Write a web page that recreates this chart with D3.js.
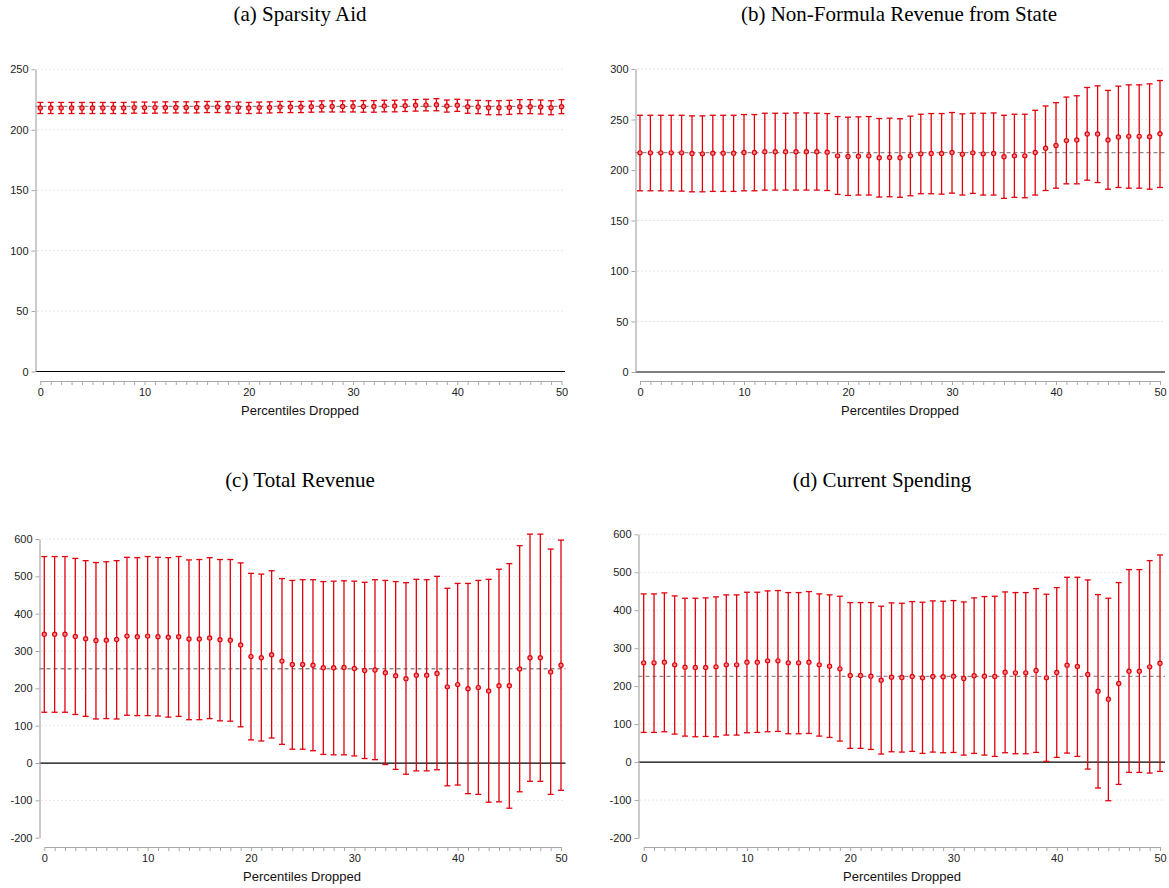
<!DOCTYPE html>
<html>
<head>
<meta charset="utf-8">
<script src="https://cdn.jsdelivr.net/npm/d3@7"></script>
<style>
  body { margin: 0; background: #fff; }
  .tick text { font-family: "Liberation Sans", Arial, sans-serif; font-size: 11px; fill: #222; }
</style>
</head>
<body>
<div id="chart"></div>
<script>
// percentiles dropped, 0..50
const pct = d3.range(0, 51);

// (a) Sparsity Aid
const aMean = [218.0,218.0,218.0,218.0,218.0,218.0,218.0,218.0,218.0,218.3,218.3,218.3,218.5,218.5,218.5,218.5,218.8,218.8,218.5,218.3,
  218.0,218.3,218.5,218.8,218.8,218.8,219.1,219.3,219.3,219.3,219.3,219.3,219.3,219.6,219.6,219.9,220.2,220.4,220.7,219.6,
  220.2,219.1,218.8,218.2,218.2,218.5,219.1,219.1,218.8,218.2,219.1];
const aHi = [222.6,222.6,222.6,222.6,222.6,222.6,222.6,222.6,222.6,222.9,222.9,222.9,223.1,223.1,223.1,223.1,223.4,223.4,223.1,222.9,
  222.6,222.9,223.1,223.4,223.4,223.4,223.7,223.9,223.9,223.9,223.9,224.1,224.1,224.4,224.4,224.7,225.0,225.2,225.7,224.6,
  225.2,224.6,224.3,224.0,224.0,224.3,224.9,224.9,224.6,224.0,224.9];
const aLo = [213.4,213.4,213.4,213.4,213.4,213.4,213.4,213.4,213.4,213.7,213.7,213.7,213.9,213.9,213.9,213.9,214.2,214.2,213.9,213.7,
  213.4,213.7,213.9,214.2,214.2,214.2,214.5,214.7,214.7,214.7,214.7,214.5,214.5,214.8,214.8,215.1,215.4,215.6,215.7,214.6,
  215.2,213.6,213.3,212.4,212.4,212.7,213.3,213.3,213.0,212.4,213.3];

// (b) Non-Formula Revenue from State
const bMean = [217,217,217,217,217,216.3,216,216.7,216.7,216.7,217.3,217.3,218,218,218,218,218,218,217.6,214,
  213.4,213.7,214,212.1,212.4,212.1,214,216,216.3,216.3,217.3,215.7,217,216,216.3,213.1,214,214,217.3,221.6,
  224.2,229.1,229.7,235.6,235.6,229.7,232.7,233.3,233.3,233,235.9];
const bHi = [254.2,254.2,254.2,254.2,254.2,253.6,253.6,254.2,254.2,254.2,254.9,254.9,256.2,256.2,256.2,256.5,256.5,256.2,255.9,252.9,
  252.3,252.6,252.9,251,251.3,250.8,253.3,255.2,255.9,255.9,256.9,255.6,256.2,256.2,256.5,254.2,255.2,255.2,259.1,263.4,
  266.7,272.2,273.5,281.7,283.3,278.8,283,284.3,284.3,285.3,288.6];
const bLo = [179.4,179.4,179.4,179.4,179.1,178.4,178.4,178.8,178.8,178.8,179.4,179.4,180.1,180.1,180.1,180.1,180.1,180.1,179.7,175.8,
  174.8,175.2,175.2,173.2,173.5,173,174.5,176.5,176.5,176.1,177.1,175.2,176.8,175.2,175.2,171.9,172.9,172.5,175.2,179.7,
  182,186.3,186.3,189.9,187.6,181,182.7,182,182,181,182.7];

// (c) Total Revenue
const cMean = [345,345,345,339,333,328,329,331,340,338,340,338,337,338,332,332,335,330,329,316,
  285,282,290,273,264,264,262,255,255,256,253,248,249,242,234,226,235,235,240,204,
  210,199,202,193,207,207,252,282,282,244,262];
const cHi = [553,553,553,548,542,537,539,542,551,550,553,551,550,553,544,545,550,545,545,536,
  508,506,515,494,489,491,491,486,487,488,487,484,491,489,486,483,492,491,500,468,
  481,481,489,492,519,534,582,613,613,573,597];
const cLo = [136,136,136,130,125,118,119,118,128,127,127,126,123,125,116,116,119,113,112,97,
  62,59,67,50,37,37,33,23,22,22,19,12,9,-4,-17,-30,-21,-21,-18,-61,
  -59,-82,-84,-105,-104,-121,-77,-49,-49,-84,-73];

// (d) Current Spending
const dMean = [261.4,261.4,263.2,256.1,250,249.1,249.1,250.9,256.1,256.1,263.2,263.2,266.7,266.7,261.4,261.4,263.2,256.1,252.6,245.6,
  228.1,228.1,226.3,215.8,223.7,222.8,225.4,221.9,225.4,224.6,226.3,220.2,227.2,226.3,225.4,236.8,235.1,235.1,241.2,221.9,
  236,255.3,251.8,230.7,186.8,165.8,207,239.5,239.5,250.9,260.5];
const dHi = [443,443,445.6,437.7,431.6,431.6,432.5,435.1,440.4,440.4,447.4,447.4,450.9,451.8,446.5,446.5,449.1,443,440.4,436.8,
  420.2,420.2,420.2,410.5,419.3,418.4,422.8,421,424.6,423.7,425.4,421.9,432.5,436,436.8,448.2,446.5,446.5,457,442.1,
  459.6,486.8,486.8,479.8,441.2,431.6,472.8,507,507,530.7,545.6];
const dLo = [78.1,78.1,79.8,73.7,68.4,66.7,67.5,66.7,71.1,71.1,77.2,78.1,79.8,80.7,74.6,74.6,75.4,68.4,64.9,55.3,
  36,36,33.3,21.1,27.2,26.3,28.1,22.8,26.3,24.6,25.4,18.4,22.8,18.4,14.9,24.6,21.9,21.9,25.4,1.8,
  12.3,23.7,14.9,-18.4,-68.4,-101.8,-58.8,-27.2,-27.2,-28.9,-24.6];

// baseline (full sample) estimate, the dashed line
const refs = [219.3, 217.3, 252.5, 226];
const titles = ["(a) Sparsity Aid", "(b) Non-Formula Revenue from State", "(c) Total Revenue", "(d) Current Spending"];
const yTicks = [d3.range(0, 251, 50), d3.range(0, 301, 50), d3.range(-200, 601, 100), d3.range(-200, 601, 100)];
const xLabel = "Percentiles Dropped";

const red = "#e2000c";

const svg = d3.select("#chart").append("svg")
  .attr("width", 1169)
  .attr("height", 888);

// layout of each panel (pixel positions)
const panels = [
  {axisX: 35.5, x0: 40.3, x1: 561.5, right: 565, yTop: 69.3, yBot: 371.5, xAxisY: 381, titleX: 300, titleY: 21, labX: 300, labY: 415,
   mean: aMean, hi: aHi, lo: aLo},
  {axisX: 635.5, x0: 640, x1: 1160, right: 1165, yTop: 69, yBot: 372, xAxisY: 381, titleX: 899, titleY: 21, labX: 900, labY: 415,
   mean: bMean, hi: bHi, lo: bLo},
  {axisX: 39.5, x0: 44.3, x1: 561, right: 565.5, yTop: 539, yBot: 837.7, xAxisY: 847, titleX: 300, titleY: 487, labX: 302, labY: 881,
   mean: cMean, hi: cHi, lo: cLo},
  {axisX: 638.5, x0: 643.7, x1: 1160, right: 1165, yTop: 534.3, yBot: 838, xAxisY: 847, titleX: 882, titleY: 487, labX: 902, labY: 881,
   mean: dMean, hi: dHi, lo: dLo}
];

panels.forEach((p, i) => {
  const g = svg.append("g");
  const ticks = yTicks[i];

  const x = d3.scaleLinear()
    .domain([0, 50])
    .range([p.x0, p.x1]);

  const y = d3.scaleLinear()
    .domain([ticks[0], ticks[ticks.length - 1]])
    .range([p.yBot, p.yTop]);

  // dotted grid lines (not on the bottom tick or zero)
  g.selectAll("line.grid")
    .data(ticks.filter(t => t !== 0 && t !== ticks[0]))
    .enter().append("line")
    .attr("class", "grid")
    .attr("x1", p.axisX + 2).attr("x2", p.right)
    .attr("y1", d => y(d)).attr("y2", d => y(d))
    .attr("stroke", "#cfcfcf")
    .attr("stroke-width", 1)
    .attr("stroke-dasharray", "1,3");

  // zero line
  g.append("line")
    .attr("x1", p.axisX).attr("x2", p.right)
    .attr("y1", y(0)).attr("y2", y(0))
    .attr("stroke", "#000")
    .attr("stroke-width", 1.2);

  // y axis
  const yAxisCall = d3.axisLeft(y)
    .tickValues(ticks)
    .tickSize(4)
    .tickSizeOuter(0)
    .tickPadding(3)
    .tickFormat(d => d);
  const ya = g.append("g")
    .attr("transform", `translate(${p.axisX}, 0)`)
    .call(yAxisCall);
  ya.select(".domain").attr("stroke", "#a8a8a8").attr("stroke-width", 1.2);
  ya.selectAll(".tick line").attr("stroke", "#a8a8a8");

  // x axis
  const xAxisCall = d3.axisBottom(x)
    .tickValues(pct)
    .tickSize(4)
    .tickSizeOuter(0)
    .tickPadding(3)
    .tickFormat(d => d % 10 === 0 ? d : "");
  const xa = g.append("g")
    .attr("transform", `translate(0, ${p.xAxisY})`)
    .call(xAxisCall);
  xa.select(".domain").attr("stroke", "#a8a8a8").attr("stroke-width", 1.2);
  xa.selectAll(".tick line").attr("stroke", "#a8a8a8");

  // dashed reference
  g.append("line")
    .attr("x1", p.axisX).attr("x2", p.right)
    .attr("y1", y(refs[i])).attr("y2", y(refs[i]))
    .attr("stroke", "#8a8a8a")
    .attr("stroke-width", 1.3)
    .attr("stroke-dasharray", "4,3");

  // error bars
  const bars = g.selectAll("g.bar")
    .data(pct)
    .enter().append("g")
    .attr("class", "bar");

  bars.append("line")
    .attr("x1", d => x(d)).attr("x2", d => x(d))
    .attr("y1", d => y(p.hi[d])).attr("y2", d => y(p.lo[d]))
    .attr("stroke", red).attr("stroke-width", 1.3);

  bars.append("line")
    .attr("x1", d => x(d) - 3).attr("x2", d => x(d) + 3)
    .attr("y1", d => y(p.hi[d])).attr("y2", d => y(p.hi[d]))
    .attr("stroke", red).attr("stroke-width", 1.3);

  bars.append("line")
    .attr("x1", d => x(d) - 3).attr("x2", d => x(d) + 3)
    .attr("y1", d => y(p.lo[d])).attr("y2", d => y(p.lo[d]))
    .attr("stroke", red).attr("stroke-width", 1.3);

  bars.append("circle")
    .attr("cx", d => x(d))
    .attr("cy", d => y(p.mean[d]))
    .attr("r", 2.1)
    .attr("fill", "#f08a8a")
    .attr("stroke", red)
    .attr("stroke-width", 1.2);

  // title and x label
  g.append("text")
    .attr("x", p.titleX).attr("y", p.titleY)
    .attr("text-anchor", "middle")
    .attr("font-family", "'Liberation Serif', 'Times New Roman', serif")
    .attr("font-size", "21px")
    .attr("fill", "#000")
    .text(titles[i]);

  g.append("text")
    .attr("x", p.labX).attr("y", p.labY)
    .attr("text-anchor", "middle")
    .attr("font-family", "'Liberation Sans', Arial, sans-serif")
    .attr("font-size", "13px")
    .attr("fill", "#111")
    .text(xLabel);
});
</script>
</body>
</html>
